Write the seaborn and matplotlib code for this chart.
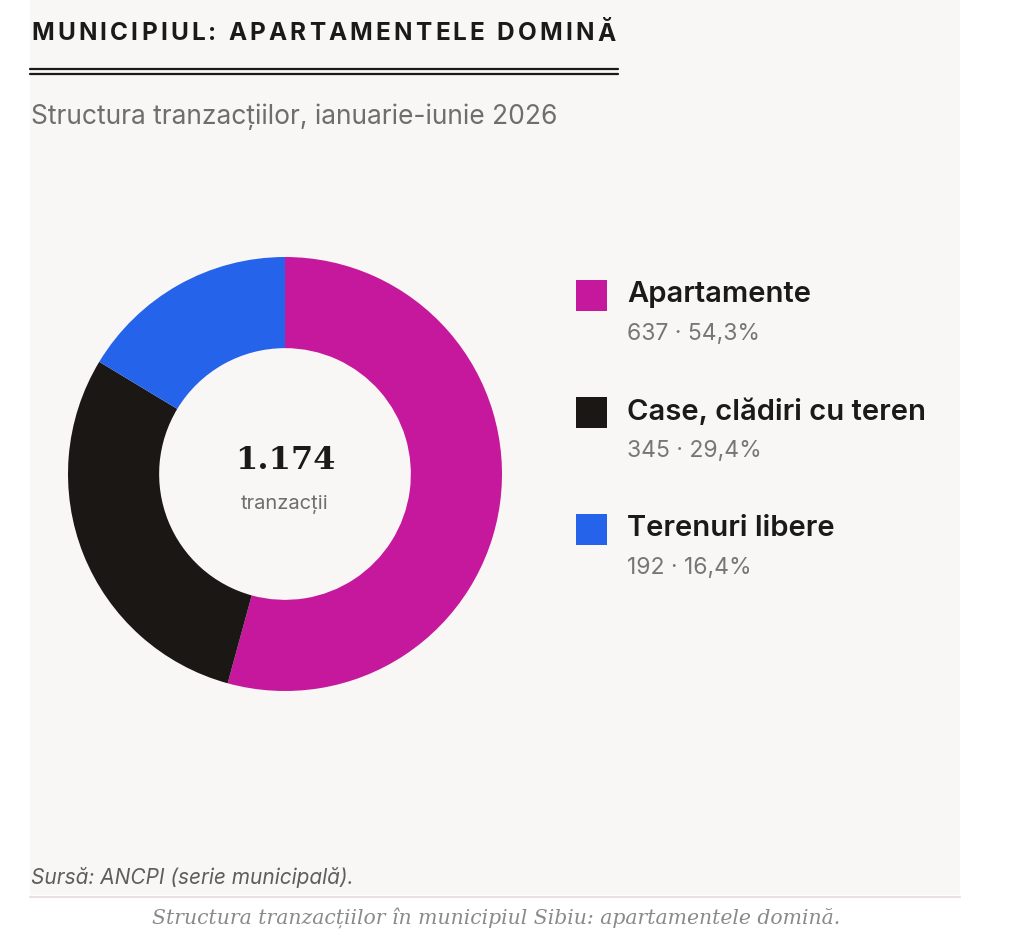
import numpy as np
import matplotlib
matplotlib.use("Agg")
import matplotlib.pyplot as plt
import seaborn as sns
from matplotlib.patches import Rectangle
from matplotlib.lines import Line2D

sns.set_style("white")
plt.rcParams["font.family"] = ["Inter", "DejaVu Sans"]

# data
categories = ["Apartamente", "Case, clădiri cu teren", "Terenuri libere"]
counts = [637, 345, 192]
shares = ["54,3%", "29,4%", "16,4%"]
colors = ["#c5189c", "#1b1714", "#2563eb"]
total_label = "1.174"

W, H = 1024, 943
BG = "#f9f7f6"

fig = plt.figure(figsize=(W / 100, H / 100), dpi=100)
fig.patch.set_facecolor("white")
renderer = fig.canvas.get_renderer()


def fx(px):
    return px / W


def fy(py):
    return 1 - py / H


def tracked_text(x_px, y_px, s, tracking_px, **kw):
    # draw text char by char so we can add letter spacing
    x = x_px
    for ch in s:
        t = fig.text(fx(x), fy(y_px), ch, ha="left", va="center", **kw)
        w = t.get_window_extent(renderer).width
        if ch == " ":
            w = t.get_window_extent(renderer).width or 6
        x += w + tracking_px
    return x


# panel background
fig.patches.append(Rectangle((fx(30), fy(895)), fx(960) - fx(30), fy(0) - fy(895),
                             transform=fig.transFigure, facecolor=BG, edgecolor="none", zorder=-5))
fig.lines.append(Line2D([fx(30), fx(960)], [fy(897), fy(897)], transform=fig.transFigure,
                        color="#eddfe0", lw=1.5))

# title + double rule
tracked_text(31, 34, "MUNICIPIUL: APARTAMENTELE DOMINĂ", 3.2, fontsize=17.5, fontweight="bold",
             color="#1a1a1a")
for yy in (69, 74):
    fig.lines.append(Line2D([fx(30), fx(618)], [fy(yy), fy(yy)], transform=fig.transFigure,
                            color="#1a1a1a", lw=1.6))

fig.text(fx(31), fy(117), "Structura tranzacțiilor, ianuarie-iunie 2026", fontsize=19,
         color="#6e6e6e", va="center", ha="left")

# donut
R = 217
cx, cy = 285, 474
ax = fig.add_axes([fx(cx - R), fy(cy + R), 2 * R / W, 2 * R / H])
ax.pie(counts, colors=colors, startangle=90, counterclock=False, radius=1,
       wedgeprops=dict(width=0.42, edgecolor="none"))
ax.set_xlim(-1, 1)
ax.set_ylim(-1, 1)
ax.set_aspect("auto")
ax.axis("off")
ax.text(0, 0.06, total_label, ha="center", va="center", fontsize=23, fontweight="bold",
        family=["DejaVu Serif"], color="#1a1a1a")
ax.text(0, -0.14, "tranzacții", ha="center", va="center", fontsize=14.5, color="#6e6e6e")

# legend
for i, (cat, n, s, c) in enumerate(zip(categories, counts, shares, colors)):
    y0 = 295 + i * 117
    fig.patches.append(Rectangle((fx(576), fy(y0 + 16)), 31 / W, 31 / H, transform=fig.transFigure,
                                 facecolor=c, edgecolor="none"))
    fig.text(fx(627), fy(y0), cat, fontsize=21, fontweight="semibold", color="#1a1a1a",
             va="center", ha="left")
    fig.text(fx(627), fy(y0 + 39), f"{n} · {s}", fontsize=16.5, color="#767676",
             va="center", ha="left")

fig.text(fx(31), fy(878), "Sursă: ANCPI (serie municipală).", fontsize=15, style="italic",
         color="#5e5e5e", va="center", ha="left")
fig.text(fx(496), fy(918), "Structura tranzacțiilor în municipiul Sibiu: apartamentele domină.",
         fontsize=14.7, style="italic", family=["DejaVu Serif"], color="#8a8a8a",
         va="center", ha="center")

fig.savefig("out.png", dpi=100, facecolor=fig.get_facecolor())
